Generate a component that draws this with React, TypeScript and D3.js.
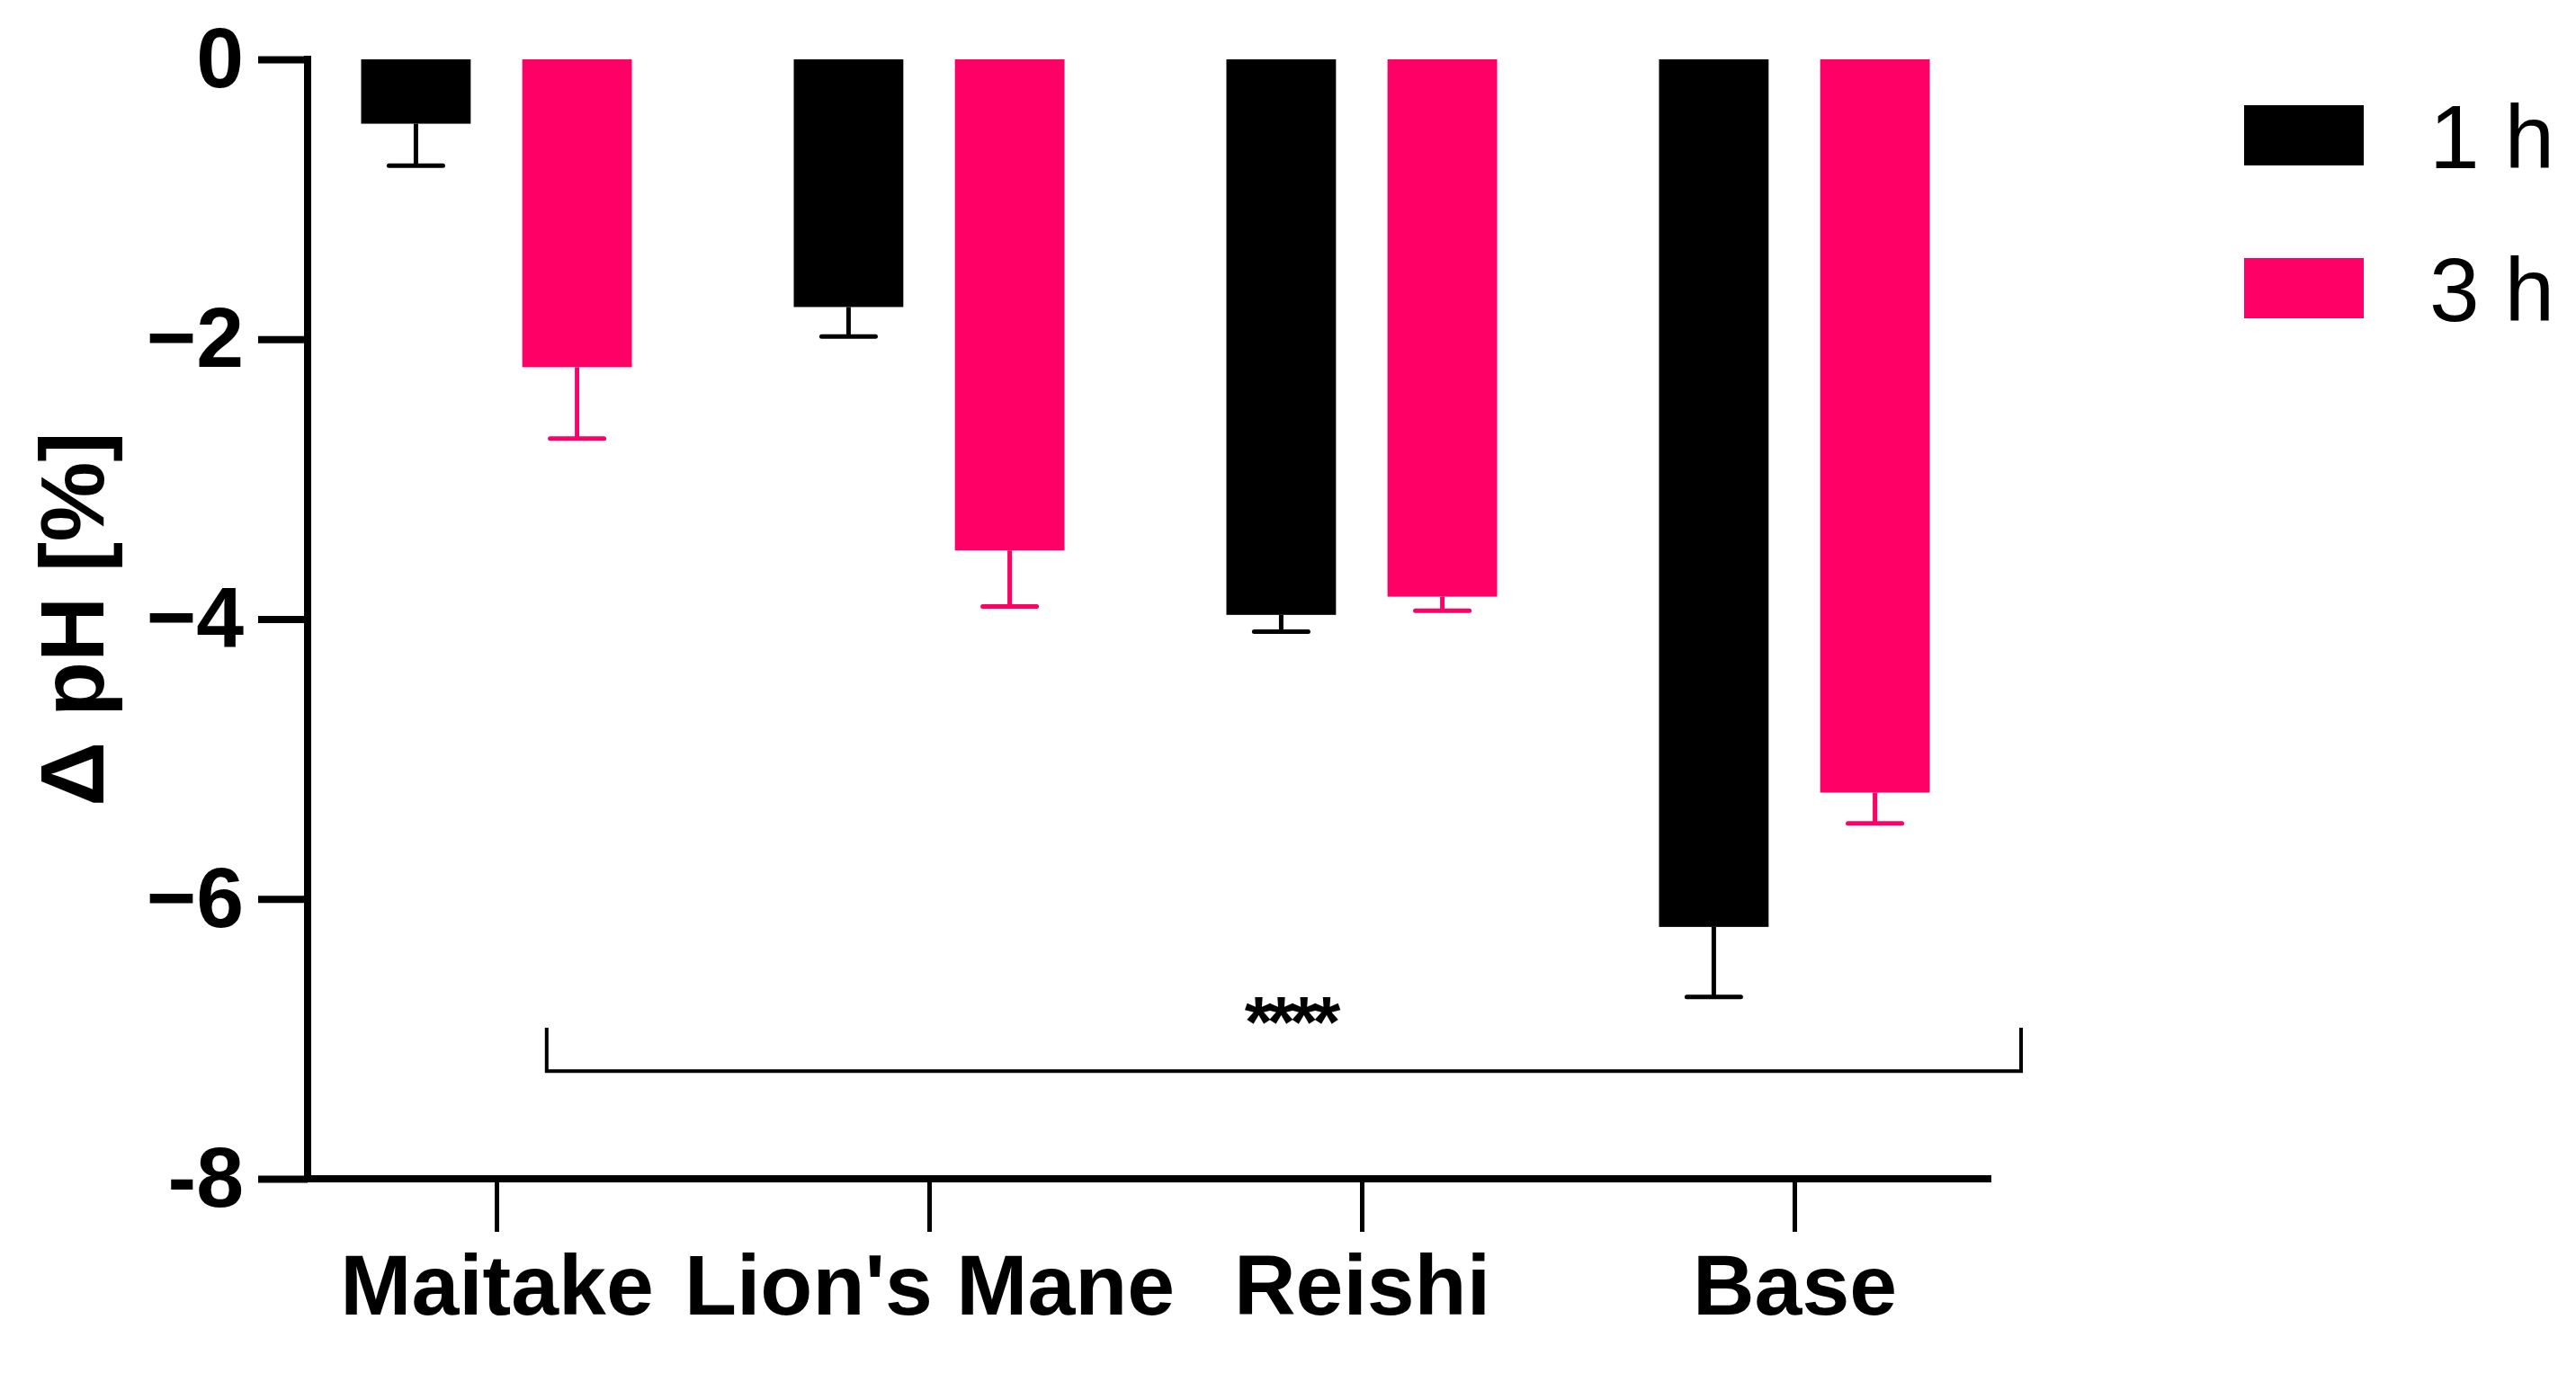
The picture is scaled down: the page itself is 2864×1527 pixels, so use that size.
import React, { useRef, useEffect } from 'react';
import * as d3 from 'd3';

// categories + values
const categories = ["Maitake", "Lion's Mane", "Reishi", "Base"];
const seriesNames = ["1 h", "3 h"];
const mean1h = [-0.46, -1.77, -3.97, -6.20];
const err1h = [0.30, 0.21, 0.12, 0.50];
const mean3h = [-2.20, -3.51, -3.84, -5.24];
const err3h = [0.51, 0.40, 0.10, 0.22];
const yTicks = [0, -2, -4, -6, -8];
const yTickLabels = ["0", "\u22122", "\u22124", "\u22126", "-8"];
const sigLabel = "****";
// bracket: from category to category, plus height in data units
const bracketFrom = ["Maitake", 0.116];
const bracketTo = ["Base", 0.524];
const bracketY = [-7.23, -6.92];

const colors = ["#000000", "#ff0066"];
const font = "'Liberation Sans', Arial, Helvetica, sans-serif";

const App = () => {
    const svgRef = useRef(null);
    const svg_width = 2864;
    const svg_height = 1527;

    useEffect(() => {
        const svg = d3.select(svgRef.current);
        svg.selectAll("*").remove();

        // scales
        const y = d3.scaleLinear().domain([0, -8]).range([66, 1311]);
        const x = d3.scalePoint().domain(categories).range([552, 1995]);
        const step = x.step();
        const xInner = d3.scaleBand().domain(seriesNames).range([-150.5, 150.5]).paddingInner(0.32);
        const color = d3.scaleOrdinal().domain(seriesNames).range(colors);

        const rows = [];
        categories.forEach((c, i) => {
            rows.push({ cat: c, s: seriesNames[0], v: mean1h[i], e: err1h[i] });
            rows.push({ cat: c, s: seriesNames[1], v: mean3h[i], e: err3h[i] });
        });

        // bars
        const bars = svg.append("g");
        bars.selectAll("rect")
            .data(rows)
            .enter()
            .append("rect")
            .attr("x", d => x(d.cat) + xInner(d.s))
            .attr("y", y(0))
            .attr("width", xInner.bandwidth())
            .attr("height", d => y(d.v) - y(0))
            .attr("fill", d => color(d.s));

        // error bars (one-sided, away from zero)
        const errs = svg.append("g");
        rows.forEach(d => {
            const cx = x(d.cat) + xInner(d.s) + xInner.bandwidth() / 2;
            errs.append("line")
                .attr("x1", cx).attr("x2", cx)
                .attr("y1", y(d.v)).attr("y2", y(d.v - d.e))
                .attr("stroke", color(d.s)).attr("stroke-width", 5);
            errs.append("line")
                .attr("x1", cx - 30).attr("x2", cx + 30)
                .attr("y1", y(d.v - d.e)).attr("y2", y(d.v - d.e))
                .attr("stroke", color(d.s)).attr("stroke-width", 5)
                .attr("stroke-linecap", "round");
        });

        // y axis
        const yAxis = d3.axisLeft(y)
            .tickValues(yTicks)
            .tickFormat((d, i) => yTickLabels[i])
            .tickSize(55)
            .tickSizeOuter(0)
            .tickPadding(16);
        const yg = svg.append("g").attr("transform", "translate(342,0)").call(yAxis);
        yg.select(".domain").remove();
        yg.selectAll(".tick line").attr("stroke", "#000").attr("stroke-width", 8);
        yg.selectAll(".tick text")
            .attr("fill", "#000")
            .style("font-family", font)
            .style("font-weight", "bold")
            .style("font-size", "95px");

        // x axis
        const xAxis = d3.axisBottom(x).tickSize(59).tickSizeOuter(0).tickPadding(25);
        const xg = svg.append("g").attr("transform", "translate(0,1311)").call(xAxis);
        xg.select(".domain").remove();
        xg.selectAll(".tick line").attr("stroke", "#000").attr("stroke-width", 5);
        xg.selectAll(".tick text")
            .attr("fill", "#000")
            .style("font-family", font)
            .style("font-weight", "bold")
            .style("font-size", "95px");

        // axis lines
        svg.append("line")
            .attr("x1", 342).attr("x2", 342)
            .attr("y1", y(0) - 4).attr("y2", y(-8) + 4)
            .attr("stroke", "#000").attr("stroke-width", 8);
        svg.append("line")
            .attr("x1", 338).attr("x2", 2214)
            .attr("y1", y(-8)).attr("y2", y(-8))
            .attr("stroke", "#000").attr("stroke-width", 8);

        // y label
        svg.append("text")
            .attr("transform", "translate(115," + ((y(0) + y(-8)) / 2) + ") rotate(-90)")
            .attr("text-anchor", "middle")
            .style("font-family", font)
            .style("font-weight", "bold")
            .style("font-size", "100px")
            .text("\u0394 pH [%]");

        // significance bracket
        const bx1 = x(bracketFrom[0]) + bracketFrom[1] * step;
        const bx2 = x(bracketTo[0]) + bracketTo[1] * step;
        svg.append("path")
            .attr("d", d3.line()([[bx1, y(bracketY[1])], [bx1, y(bracketY[0])], [bx2, y(bracketY[0])], [bx2, y(bracketY[1])]]))
            .attr("fill", "none")
            .attr("stroke", "#000")
            .attr("stroke-width", 4);
        svg.append("text")
            .attr("x", 1434)
            .attr("y", y(bracketY[0]) - 27)
            .attr("text-anchor", "middle")
            .style("font-family", font)
            .style("font-weight", "bold")
            .style("font-size", "80px")
            .style("letter-spacing", "-6px")
            .text(sigLabel);

        // legend
        const legend = svg.append("g");
        seriesNames.forEach((s, i) => {
            const top = i === 0 ? 117 : 287;
            legend.append("rect")
                .attr("x", 2495).attr("y", top)
                .attr("width", 133).attr("height", 67)
                .attr("fill", color(s));
            legend.append("text")
                .attr("x", 2701).attr("y", top + 70)
                .style("font-family", font)
                .style("font-size", "100px")
                .text(s);
        });
    }, []);

    return (
        <svg ref={svgRef} width={svg_width} height={svg_height}
            style={{ position: 'absolute', left: 0, top: 0, background: '#fff' }}>
        </svg>
    );
};

export default App;
